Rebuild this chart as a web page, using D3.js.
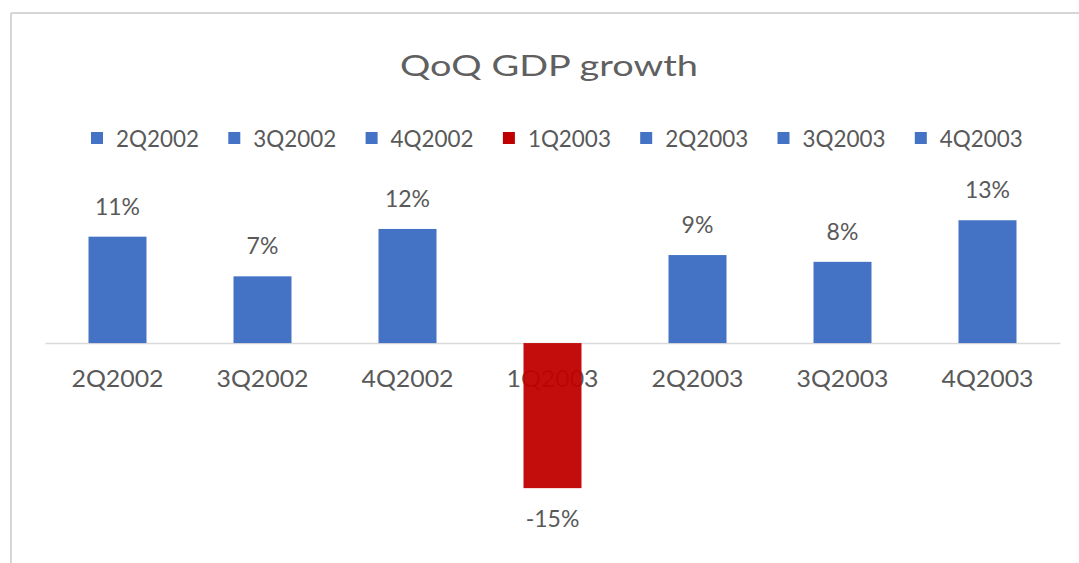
<!DOCTYPE html>
<html>
<head>
<meta charset="utf-8">
<script src="https://cdn.jsdelivr.net/npm/d3@7"></script>
<style>
  html, body { margin: 0; padding: 0; background: #fff; }
  svg { display: block; }
  text { font-family: Lato, "Open Sans", sans-serif; fill: #595959; }
</style>
</head>
<body>
<svg id="chart" width="1079" height="563"></svg>
<script>
const categories = ["2Q2002", "3Q2002", "4Q2002", "1Q2003", "2Q2003", "3Q2003", "4Q2003"];
const growth = [11.0, 6.9, 11.8, -15.0, 9.1, 8.4, 12.7];
const labels = ["11%", "7%", "12%", "-15%", "9%", "8%", "13%"];
const yDomain = [-20, 15];
const title = "QoQ GDP growth";

const BLUE = "#4472C4", RED = "#C00000";
const colorOf = v => v < 0 ? RED : BLUE;

const svg = d3.select("#chart");

// chart frame (cropped at right/bottom)
svg.append("line").attr("x1", 11).attr("x2", 1079).attr("y1", 13).attr("y2", 13)
  .attr("stroke", "#d6d6d6").attr("stroke-width", 2);
svg.append("line").attr("x1", 11).attr("x2", 11).attr("y1", 13).attr("y2", 563)
  .attr("stroke", "#d6d6d6").attr("stroke-width", 2);

const x = d3.scaleBand().domain(categories).range([45, 1060]).paddingInner(0.6).paddingOuter(0.3);
const y = d3.scaleLinear().domain(yDomain).range([536.5, 198]);

function fit(sel, w) {
  sel.each(function () {
    const cur = this.getComputedTextLength();
    if (cur > 0) d3.select(this).attr("textLength", w).attr("lengthAdjust", "spacingAndGlyphs");
  });
}

// title
svg.append("text").attr("x", 549).attr("y", 76).attr("text-anchor", "middle")
  .style("font-size", "29px").style("fill", "#606060").text(title).call(fit, 298);

// legend
const legend = svg.append("g");
const lg = legend.selectAll("g").data(categories).join("g")
  .attr("transform", (d, i) => `translate(${91 + i * 137.3},0)`);
lg.append("rect").attr("x", 0).attr("y", 132).attr("width", 12).attr("height", 12)
  .attr("fill", (d, i) => colorOf(growth[i]));
lg.append("text").attr("x", 25).attr("y", 147).style("font-size", "23px")
  .text(d => d).call(fit, 83);

// zero axis line
const axis = d3.axisBottom(x).tickSize(0).tickFormat("");
svg.append("g").attr("transform", `translate(0,${y(0)})`).call(axis)
  .call(g => g.select(".domain").attr("stroke", "#d9d9d9").attr("stroke-width", 1.5));

// category labels (drawn beneath the bars, as in the original)
svg.append("g").selectAll("text").data(categories).join("text")
  .attr("x", d => x(d) + x.bandwidth() / 2)
  .attr("y", 387)
  .attr("text-anchor", "middle")
  .style("font-size", "24px")
  .text(d => d).call(fit, 92);

// bars
svg.append("g").selectAll("rect").data(categories).join("rect")
  .attr("x", d => x(d))
  .attr("width", x.bandwidth())
  .attr("y", (d, i) => y(Math.max(0, growth[i])))
  .attr("height", (d, i) => Math.abs(y(growth[i]) - y(0)))
  .attr("fill", (d, i) => colorOf(growth[i]))
  .attr("fill-opacity", (d, i) => growth[i] < 0 ? 0.95 : 1);

// data labels
svg.append("g").selectAll("text").data(categories).join("text")
  .attr("x", d => x(d) + x.bandwidth() / 2)
  .attr("y", (d, i) => growth[i] >= 0 ? y(growth[i]) - 22 : y(growth[i]) + 39)
  .attr("text-anchor", "middle")
  .style("font-size", "23px")
  .text((d, i) => labels[i]);
</script>
</body>
</html>
